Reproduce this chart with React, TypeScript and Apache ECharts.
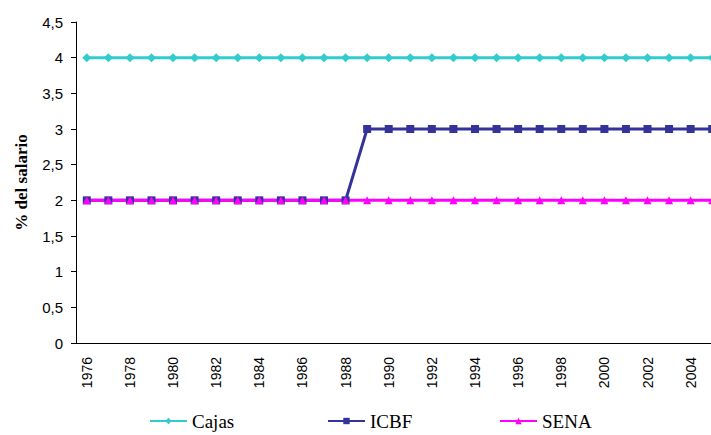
import React, { useEffect, useRef } from "react";
import * as echarts from "echarts";

const years = Array.from({ length: 30 }, (_, i) => String(1976 + i));
const cajas = [4, 4, 4, 4, 4, 4, 4, 4, 4, 4, 4, 4, 4, 4, 4, 4, 4, 4, 4, 4, 4, 4, 4, 4, 4, 4, 4, 4, 4, 4];
const icbf = [2, 2, 2, 2, 2, 2, 2, 2, 2, 2, 2, 2, 2, 3, 3, 3, 3, 3, 3, 3, 3, 3, 3, 3, 3, 3, 3, 3, 3, 3];
const sena = [2, 2, 2, 2, 2, 2, 2, 2, 2, 2, 2, 2, 2, 2, 2, 2, 2, 2, 2, 2, 2, 2, 2, 2, 2, 2, 2, 2, 2, 2];
const seriesNames = ["Cajas", "ICBF", "SENA"];
const colors = ["#33CCCC", "#333399", "#FF00FF"];
const symbols = ["diamond", "rect", "triangle"];
const symbolSizes = [9, 8, 8];
const legendLefts = [149, 327, 499];

export default function App() {
  const ref = useRef<HTMLDivElement>(null);
  useEffect(() => {
    const chart = echarts.init(ref.current!, null, { renderer: "svg" });
    const values = [cajas, icbf, sena];
    chart.setOption({
      animation: false,
      backgroundColor: "#fff",
      grid: { left: 76, right: 0, top: 22, bottom: 92, containLabel: false },
      legend: seriesNames.map((n, i) => ({
        left: legendLefts[i],
        top: 410,
        padding: 0,
        itemWidth: 37,
        itemHeight: 8,
        textStyle: { fontFamily: "Liberation Serif", fontSize: 19, lineHeight: 22, color: "#000" },
        data: [n],
      })),
      xAxis: {
        type: "category",
        data: years,
        boundaryGap: true,
        axisLine: { lineStyle: { color: "#000", width: 1 } },
        axisTick: { interval: 0, length: 5, lineStyle: { color: "#000" } },
        axisLabel: {
          interval: 1,
          rotate: 90,
          margin: 14,
          fontFamily: "Liberation Sans",
          fontSize: 14,
          color: "#000",
        },
        splitLine: { show: false },
      },
      yAxis: {
        type: "value",
        min: 0,
        max: 4.5,
        interval: 0.5,
        name: "% del salario",
        nameLocation: "middle",
        nameGap: 46,
        nameTextStyle: { fontFamily: "Liberation Serif", fontWeight: "bold", fontSize: 17, color: "#000" },
        axisLine: { show: true, lineStyle: { color: "#000", width: 1 } },
        axisTick: { show: true, length: 5, lineStyle: { color: "#000" } },
        axisLabel: {
          margin: 13,
          fontFamily: "Liberation Sans",
          fontSize: 15,
          color: "#000",
          formatter: (v: number) => String(v).replace(".", ","),
        },
        splitLine: { show: false },
      },
      series: seriesNames.map((n, i) => ({
        name: n,
        type: "line",
        data: values[i],
        symbol: symbols[i],
        symbolSize: symbolSizes[i],
        color: colors[i],
        lineStyle: { width: 3, color: colors[i] },
        itemStyle: { color: colors[i] },
      })),
    });
    return () => chart.dispose();
  }, []);
  return (
    <div style={{ position: "absolute", left: 0, top: 0, width: 711, height: 435, overflow: "hidden", background: "#fff" }}>
      <div ref={ref} style={{ width: 723, height: 435 }} />
    </div>
  );
}
